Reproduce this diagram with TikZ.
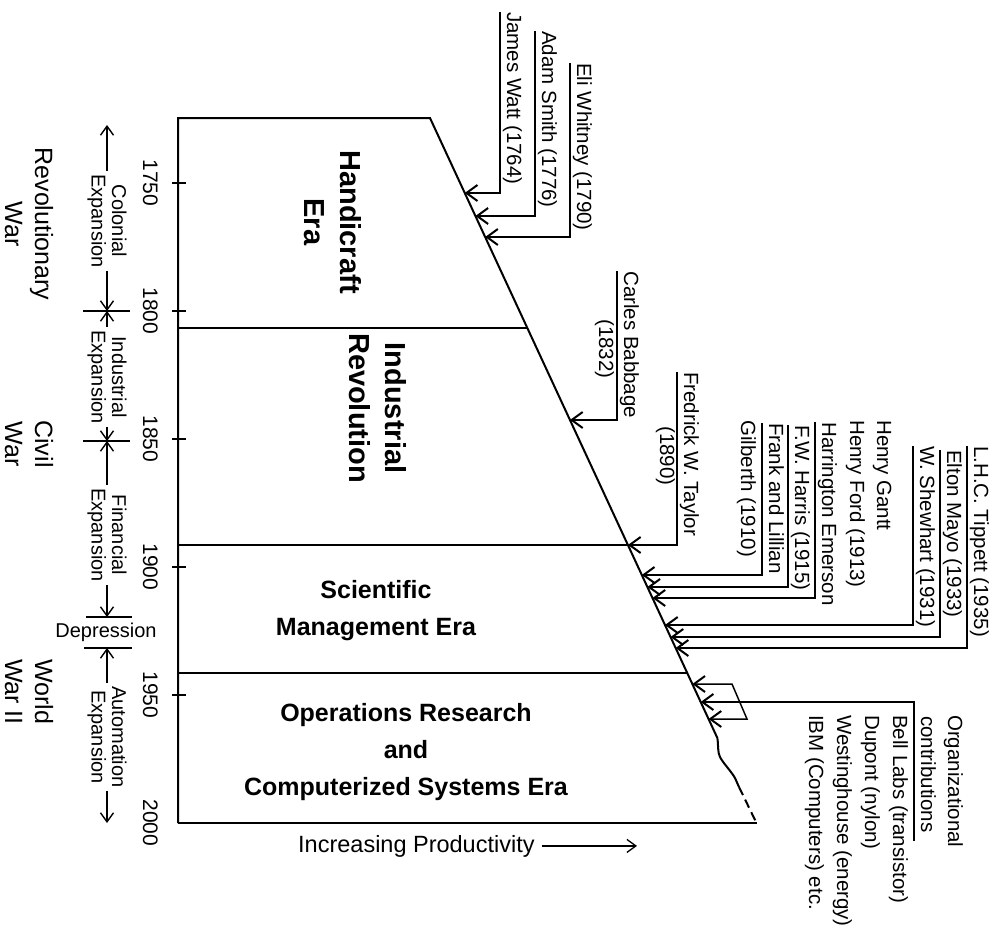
\documentclass[tikz,border=0pt]{standalone}
\usepackage{fontspec}
\setmainfont{Liberation Sans}
\usetikzlibrary{arrows.meta,calc}
% x position of the slanted productivity edge at height #1
\pgfmathdeclarefunction{slx}{1}{\pgfmathparse{430+0.4635*(#1-118)}}
\begin{document}
\begin{tikzpicture}[x=1pt,y=-1pt,
  outline/.style={line width=2pt,line join=miter},
  tickmark/.style={line width=1.6pt},
  barb/.tip={Straight Barb[length=11pt,width=16pt,line width=2pt]},
  conn/.style={line width=1.5pt,{barb}-},
  per/.style={line width=1.4pt,-{Straight Barb[length=9pt,width=13pt]}},
  bar/.style={line width=1.4pt},
  lab/.style={rotate=-90,inner sep=0pt,text depth=7pt,font=\fontsize{20.5}{24}\selectfont},
  plain/.style={rotate=-90,inner sep=0pt,font=\fontsize{20.5}{24}\selectfont},
  yr/.style={rotate=-90,inner sep=0pt,anchor=base,font=\fontsize{21}{24}\selectfont},
  era/.style={rotate=-90,align=center,font=\fontsize{29}{36}\selectfont\bfseries},
  eraH/.style={align=center,font=\fontsize{25}{37}\selectfont\bfseries},
  war/.style={rotate=-90,align=center,font=\fontsize{25}{30}\selectfont},
  period/.style={rotate=-90,align=center,inner xsep=3pt,inner ysep=0pt,font=\fontsize{20}{20.5}\selectfont},
]
\fill[white] (0,0) rectangle (1002,942);
\useasboundingbox (0,0) rectangle (1002,942);

% ---- main productivity chart ----
\coordinate (axTop) at (178,118);
\coordinate (axBot) at (178,823);
\coordinate (sA) at (430,118);
\coordinate (sB) at ({slx(738)},738);
\coordinate (wEnd) at (739,787);
\coordinate (bEnd) at (757,823);
\draw[outline] (axBot) -- (axTop) -- (sA) -- (sB)
  .. controls (718.5,746) and (717.5,752) .. (720,757)
  .. controls (723,763) and (731,771) .. (735,778)
  -- (wEnd);
\draw[outline,dash pattern=on 9pt off 5pt] (wEnd) -- (756,822);
\draw[outline] (bEnd) -- (axBot);

% era dividers
\foreach \yy in {328,545,673}
  \draw[outline] (178,\yy) -- ({slx(\yy)},\yy);

% time axis ticks and years
\foreach \yy/\yr in {183/1750,311/1800,439/1850,567/1900,695/1950}{
  \draw[tickmark] (172,\yy) -- (186,\yy);
  \node[yr] at (143,\yy) {\yr};
}
\node[yr] at (143,823) {2000};

% era names
\node[era] (handi) at (333,222) {Handicraft\\Era};
\node[era] (indrev) at (378,408) {Industrial\\Revolution};
\node[eraH] (sci) at (376,611) {Scientific\\Management Era};
\node[eraH] (ops) at (406,752) {Operations Research\\and\\Computerized Systems Era};

% productivity direction
\node[inner sep=0pt,anchor=base west,font=\fontsize{23.5}{28}\selectfont] (prod) at (298,852) {Increasing Productivity};
\coordinate (prodEnd) at (637,846);
\draw[line width=1.3pt,-{Straight Barb[length=9pt,width=13pt]}] ([xshift=7pt]prod.east) -- (prodEnd |- prod.east);

% ---- wars ----
\node[war] (revwar) at (29,224) {Revolutionary\\War};
\node[war] (civwar) at (29,444) {Civil\\War};
\node[war] (ww2) at (29,692) {World\\War II};

% ---- economic periods ----
\coordinate (pTop) at (107,125);
\coordinate (b1800) at (107,311);
\coordinate (b1850) at (107,441);
\coordinate (bDepA) at (107,617);
\coordinate (bDepB) at (107,648);
\coordinate (pBot) at (107,823);
\draw[bar] (83,311) -- (130,311);
\draw[bar] (83,441) -- (130,441);
\draw[bar] (86,617) -- (132,617);
\draw[bar] (84,648) -- (132,648);

\node[period] (colon) at (107,221) {Colonial\\Expansion};
\node[period] (indexp) at (107,377) {Industrial\\Expansion};
\node[period] (finexp) at (107,535) {Financial\\Expansion};
\node[period] (autexp) at (107,737) {Automation\\Expansion};
\node[inner sep=0pt,font=\fontsize{20}{24}\selectfont] (dep) at (106,632) {Depression};

\draw[per] (colon.west) -- (pTop);
\draw[per] (colon.east) -- (b1800);
\draw[per] (indexp.west) -- (b1800);
\draw[per] (indexp.east) -- (b1850);
\draw[per] (finexp.west) -- (b1850);
\draw[per] (finexp.east) -- (bDepA);
\draw[per] (autexp.west) -- (bDepB);
\draw[per] (autexp.east) -- (pBot);

% ---- contributors ----
\node[lab,anchor=base west] (watt) at (507,12) {James Watt (1764)};
\node[lab,anchor=base west] (smith) at (542,31) {Adam Smith (1776)};
\node[lab,anchor=base west] (whitney) at (577,63) {Eli Whitney (1790)};

\node[lab,anchor=base west] (babbage) at (624,271) {Carles Babbage};
\node[plain,anchor=base] (babbageY) at (599,349) {(1832)};

\node[lab,anchor=base west] (taylor) at (684,372) {Fredrick W. Taylor};
\node[plain,anchor=base] (taylorY) at (660,456) {(1890)};

\node[plain,anchor=base west] (gantt) at (877,420) {Henry Gantt};
\node[plain,anchor=base west] (ford) at (850,420) {Henry Ford (1913)};
\node[lab,anchor=base west] (emerson) at (822,422) {Harrington Emerson};
\node[lab,anchor=base west] (harris) at (795,425) {F.W. Harris (1915)};
\node[lab,anchor=base west] (frank) at (769,423) {Frank and Lillian};
\node[plain,anchor=base west] (gilberth) at (741,420) {Gilberth (1910)};

\node[lab,anchor=base west] (shewhart) at (920,446) {W. Shewhart (1931)};
\node[lab,anchor=base west] (mayo) at (947,450) {Elton Mayo (1933)};
\node[lab,anchor=base west] (tippett) at (974,446) {L.H.C. Tippett (1935)};

\node[plain,anchor=base west] (orgA) at (948,715) {Organizational};
\node[lab,anchor=base west] (orgB) at (921,716) {contributions};
\node[plain,anchor=base west] (bell) at (893,715) {Bell Labs (transistor)};
\node[plain,anchor=base west] (dupont) at (865,715) {Dupont (nylon)};
\node[plain,anchor=base west] (westing) at (837,715) {Westinghouse (energy)};
\node[plain,anchor=base west] (ibm) at (809,715) {IBM (Computers) etc.};

% arrow tips on the productivity edge
\foreach \n/\yy in {tWatt/193,tSmith/216,tWhitney/237,tBabbage/420,tTaylor/545,
                    tFrank/575,tHarris/587,tEmerson/598,tShewhart/625,tMayo/637,
                    tTippett/648,tOrgTop/684,tOrg/702,tOrgBot/719}
  \coordinate (\n) at ({slx(\yy)},\yy);
\coordinate (brA) at (732,684);
\coordinate (brB) at (747,719);

\foreach \t/\n in {tWatt/watt,tSmith/smith,tWhitney/whitney,tBabbage/babbage,tTaylor/taylor,
                   tFrank/frank,tHarris/harris,tEmerson/emerson,
                   tShewhart/shewhart,tMayo/mayo,tTippett/tippett}
  \draw[conn] (\t) -- (\t -| \n.south west) -- (\n.south west);

\draw[conn] (tOrg) -- (tOrg -| orgB.south west) -- ($(orgB.south east)+(0,8)$);
\draw[line width=1.5pt,{barb}-{barb}] (tOrgTop) -- (brA) -- (brB) -- (tOrgBot);
\end{tikzpicture}
\end{document}
